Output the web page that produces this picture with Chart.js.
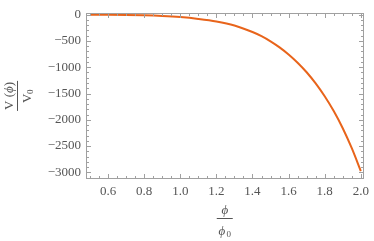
<!DOCTYPE html>
<html>
<head>
<meta charset="utf-8">
<script src="https://cdn.jsdelivr.net/npm/chart.js@4/dist/chart.umd.min.js"></script>
<style>
html,body{margin:0;padding:0;background:#fff;}
#wrap{width:374px;height:241px;position:relative;}
</style>
</head>
<body>
<div id="wrap"><canvas id="c" width="374" height="241"></canvas></div>
<script>
// Data
const phiValues = [0.5, 0.6, 0.7, 0.8, 0.9, 1.0, 1.1, 1.2, 1.3, 1.4, 1.45, 1.5, 1.55, 1.6, 1.65, 1.7, 1.75, 1.8, 1.85, 1.9, 1.95, 2.0];
const potentialValues = [-1, -2, -5, -12, -25, -46, -80, -128, -205, -330, -408, -506, -621, -756, -913, -1095, -1307, -1552, -1834, -2160, -2540, -2975];
const xTickValues = [0.6, 0.8, 1.0, 1.2, 1.4, 1.6, 1.8, 2.0];
const yTickValues = [0, -500, -1000, -1500, -2000, -2500, -3000];
const xMinorStep = 0.05;
const yMinorStep = 100;

const points = phiValues.map((p, i) => ({x: p, y: potentialValues[i]}));

const frameColor = '#a0a0a0';
const textColor = '#555555';
const serif = '"Liberation Serif", "DejaVu Serif", serif';

const framePlugin = {
  id: 'framePlugin',
  afterDraw(chart) {
    const ctx = chart.ctx;
    const a = chart.chartArea;
    const xs = chart.scales.x, ys = chart.scales.y;
    ctx.save();
    ctx.strokeStyle = frameColor;
    ctx.lineWidth = 1;
    ctx.strokeRect(Math.round(a.left) + 0.5, Math.round(a.top) + 0.5, Math.round(a.right - a.left) - 1, Math.round(a.bottom - a.top) - 1);
    const L = Math.round(a.left) + 0.5, R = Math.round(a.right) - 0.5, T = Math.round(a.top) + 0.5, B = Math.round(a.bottom) - 0.5;
    ctx.beginPath();
    // x ticks (bottom & top, inward)
    for (let v = 0.45; v <= 2.05; v += xMinorStep) {
      const val = Math.round(v * 100) / 100;
      if (val < xs.min || val > xs.max) continue;
      const px = Math.round(xs.getPixelForValue(val)) + 0.5;
      const major = xTickValues.some(t => Math.abs(t - val) < 1e-6);
      const len = major ? 4.5 : 2.5;
      ctx.moveTo(px, B); ctx.lineTo(px, B - len);
      ctx.moveTo(px, T); ctx.lineTo(px, T + len);
    }
    // y ticks (left & right, inward)
    for (let v = 0; v >= -3100; v -= yMinorStep) {
      if (v < ys.min || v > ys.max) continue;
      const py = Math.round(ys.getPixelForValue(v)) + 0.5;
      const major = yTickValues.includes(v);
      const len = major ? 4.5 : 2.5;
      ctx.moveTo(L, py); ctx.lineTo(L + len, py);
      ctx.moveTo(R, py); ctx.lineTo(R - len, py);
    }
    ctx.stroke();

    // axis labels as fractions
    ctx.fillStyle = textColor;
    ctx.strokeStyle = textColor;
    // x label
    const cx = (a.left + a.right) / 2;
    ctx.textAlign = 'center';
    ctx.textBaseline = 'alphabetic';
    ctx.font = 'italic 13px ' + serif;
    ctx.fillText('\u03D5', cx, 214);
    ctx.beginPath(); ctx.moveTo(cx - 8, 218.5); ctx.lineTo(cx + 8, 218.5); ctx.stroke();
    ctx.fillText('\u03D5', cx - 3, 235);
    ctx.font = '9px ' + serif;
    ctx.fillText('0', cx + 4, 237);

    // y label (rotated)
    const cy = (a.top + a.bottom) / 2;
    ctx.save();
    ctx.translate(17, cy);
    ctx.rotate(-Math.PI / 2);
    ctx.textAlign = 'left';
    ctx.font = '13px ' + serif;
    const w1 = ctx.measureText('V (').width;
    ctx.font = 'italic 13px ' + serif;
    const w2 = ctx.measureText('\u03D5').width;
    ctx.font = '13px ' + serif;
    const w3 = ctx.measureText(')').width;
    const tot = w1 + w2 + w3;
    let sx = -tot / 2;
    ctx.fillText('V (', sx, -4); sx += w1;
    ctx.font = 'italic 13px ' + serif;
    ctx.fillText('\u03D5', sx, -4); sx += w2;
    ctx.font = '13px ' + serif;
    ctx.fillText(')', sx, -4);
    ctx.beginPath(); ctx.moveTo(-tot / 2 - 1, 0.5); ctx.lineTo(tot / 2 + 1, 0.5); ctx.stroke();
    ctx.font = '13px ' + serif;
    ctx.fillText('V', -7, 14);
    ctx.font = '9px ' + serif;
    ctx.fillText('0', 2, 16);
    ctx.restore();
    ctx.restore();
  }
};

new Chart(document.getElementById('c'), {
  type: 'line',
  data: {
    datasets: [{
      data: points,
      borderColor: '#e8641b',
      borderWidth: 2,
      pointRadius: 0,
      fill: false,
      cubicInterpolationMode: 'monotone'
    }]
  },
  options: {
    responsive: false,
    animation: false,
    devicePixelRatio: 1,
    layout: {padding: {left: 0, right: 7, top: 4, bottom: 0}},
    plugins: {legend: {display: false}, tooltip: {enabled: false}},
    scales: {
      x: {
        type: 'linear',
        min: 0.478,
        max: 2.015,
        grid: {display: false, drawTicks: false},
        border: {display: false},
        afterBuildTicks(scale) { scale.ticks = xTickValues.map(v => ({value: v})); },
        afterFit(scale) { scale.height = 62; },
        ticks: {
          padding: 5,
          color: textColor,
          font: {family: serif, size: 13},
          maxRotation: 0,
          autoSkip: false,
          callback: v => Number(v).toFixed(1)
        }
      },
      y: {
        type: 'linear',
        min: -3127,
        max: 36,
        grid: {display: false, drawTicks: false},
        border: {display: false},
        afterBuildTicks(scale) { scale.ticks = yTickValues.map(v => ({value: v})); },
        afterFit(scale) { scale.width = 86; },
        ticks: {
          padding: 5,
          color: textColor,
          font: {family: serif, size: 13},
          autoSkip: false,
          callback: v => (v < 0 ? '\u2212' + Math.abs(v) : String(v))
        }
      }
    }
  },
  plugins: [framePlugin]
});
</script>
</body>
</html>
